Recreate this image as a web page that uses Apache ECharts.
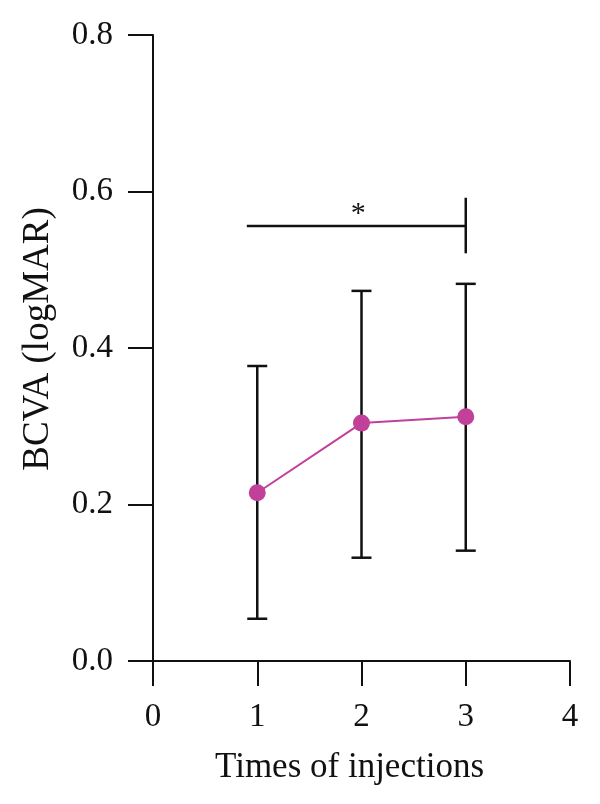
<!DOCTYPE html>
<html>
<head>
<meta charset="utf-8">
<script src="https://cdn.jsdelivr.net/npm/echarts@6/dist/echarts.min.js"></script>
<style>
  html, body { margin: 0; padding: 0; background: #fff; }
  #main { width: 600px; height: 804px; }
</style>
</head>
<body>
<div id="main"></div>
<script>
  // data
  const injections = [1, 2, 3];
  const bcvaMean = [0.215, 0.304, 0.312];
  const bcvaLow = [0.054, 0.132, 0.141];
  const bcvaHigh = [0.377, 0.473, 0.482];

  // significance bracket: from x=0.9 to x=3 at y=0.556, end tick 0.521..0.592
  const sigFrom = 0.9;
  const sigTo = 3;
  const sigLevel = 0.556;
  const sigTickRange = [0.521, 0.592];
  const sigLabel = "*";

  const xTicks = [0, 1, 2, 3, 4];
  const yTicks = [0, 0.2, 0.4, 0.6, 0.8];

  const font = "Liberation Serif";

  const errData = injections.map((x, i) => [x, bcvaLow[i], bcvaHigh[i]]);
  const lineData = injections.map((x, i) => [x, bcvaMean[i]]);

  const chart = echarts.init(document.getElementById("main"));

  const option = {
    animation: false,
    grid: { left: 153, right: 30, top: 35, bottom: 143 },
    xAxis: {
      type: "value",
      min: xTicks[0],
      max: xTicks[xTicks.length - 1],
      interval: 1,
      name: "Times of injections",
      nameLocation: "middle",
      nameGap: 89,
      nameTextStyle: { fontFamily: font, fontSize: 35, color: "#111", padding: [0, 24, 0, 0] },
      axisLine: { onZero: false, lineStyle: { color: "#111", width: 2 } },
      axisTick: { length: 25, lineStyle: { color: "#111", width: 2 } },
      axisLabel: { fontFamily: font, fontSize: 33, color: "#111", margin: 40 },
      splitLine: { show: false },
    },
    yAxis: {
      type: "value",
      min: yTicks[0],
      max: yTicks[yTicks.length - 1],
      interval: 0.2,
      name: "BCVA (logMAR)",
      nameLocation: "middle",
      nameGap: 96,
      nameTextStyle: { fontFamily: font, fontSize: 37, color: "#111", padding: [0, 0, 0, 18] },
      axisLine: { show: true, lineStyle: { color: "#111", width: 2 } },
      axisTick: { show: true, length: 25, lineStyle: { color: "#111", width: 2 } },
      axisLabel: {
        fontFamily: font,
        fontSize: 33,
        color: "#111",
        margin: 40,
        formatter: (v) => v.toFixed(1),
      },
      splitLine: { show: false },
    },
    series: [
      {
        name: "error",
        type: "custom",
        data: errData,
        renderItem: (params, api) => {
          const x = api.value(0);
          const lo = api.coord([x, api.value(1)]);
          const hi = api.coord([x, api.value(2)]);
          const cap = 10;
          const style = { stroke: "#111", lineWidth: 2.5 };
          return {
            type: "group",
            children: [
              { type: "line", shape: { x1: lo[0], y1: lo[1], x2: hi[0], y2: hi[1] }, style },
              { type: "line", shape: { x1: lo[0] - cap, y1: lo[1], x2: lo[0] + cap, y2: lo[1] }, style },
              { type: "line", shape: { x1: hi[0] - cap, y1: hi[1], x2: hi[0] + cap, y2: hi[1] }, style },
            ],
          };
        },
        z: 2,
      },
      {
        name: "BCVA",
        type: "line",
        data: lineData,
        symbol: "circle",
        symbolSize: 17,
        itemStyle: { color: "#C1409A" },
        lineStyle: { color: "#C1409A", width: 2 },
        z: 3,
      },
      {
        name: "sig",
        type: "custom",
        data: [[sigFrom, sigTo, sigLevel, sigTickRange[0], sigTickRange[1]]],
        renderItem: (params, api) => {
          const a = api.coord([api.value(0), api.value(2)]);
          const b = api.coord([api.value(1), api.value(2)]);
          const t1 = api.coord([api.value(1), api.value(3)]);
          const t2 = api.coord([api.value(1), api.value(4)]);
          const style = { stroke: "#111", lineWidth: 2.5 };
          return {
            type: "group",
            children: [
              { type: "line", shape: { x1: a[0], y1: a[1], x2: b[0], y2: b[1] }, style },
              { type: "line", shape: { x1: t1[0], y1: t1[1], x2: t2[0], y2: t2[1] }, style },
              {
                type: "text",
                x: (a[0] + b[0]) / 2 + 2,
                y: a[1] + 3,
                style: {
                  text: sigLabel,
                  fontFamily: font,
                  fontSize: 30,
                  fill: "#111",
                  align: "center",
                  verticalAlign: "bottom",
                },
              },
            ],
          };
        },
        z: 2,
      },
    ],
  };

  chart.setOption(option);
</script>
</body>
</html>
